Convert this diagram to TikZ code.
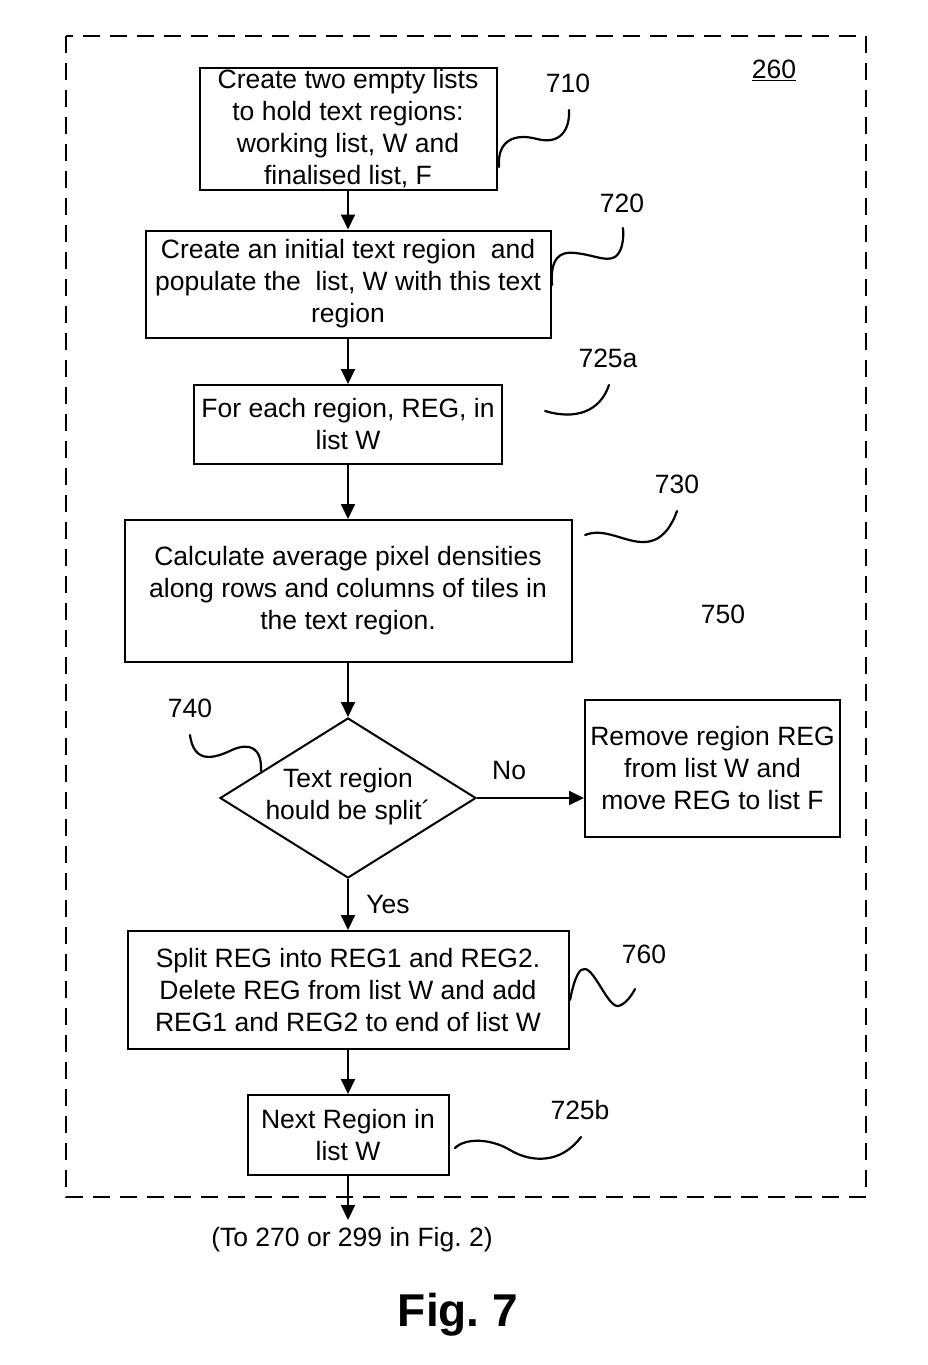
\documentclass[tikz,border=0pt]{standalone}
\usepackage{fontspec}
\setmainfont{Liberation Sans}
\usepackage{tikz}
\usetikzlibrary{shapes.geometric,arrows.meta}

\begin{document}
\begin{tikzpicture}[x=1pt, y=-1pt,
    box/.style={draw,line width=2pt,align=center,inner sep=0,font=\fontsize{26.5}{32}\selectfont},
    decision/.style={diamond,draw,line width=2pt,inner sep=0,minimum width=256pt,minimum height=160pt},
    flow/.style={line width=2pt,-{Triangle[length=15pt,width=14pt]}},
    leader/.style={line width=2.2pt,line cap=round},
    lbl/.style={font=\fontsize{26.5}{32}\selectfont}]
        \useasboundingbox (0,0) rectangle (928,1365);
        \draw[line width=2pt,dash pattern=on 17pt off 10pt] (66,36) rectangle (866,1197);
        \node at (774,70) [lbl] (n260) {\underline{260}};
        % boxes
        \node at (348,129) [box,minimum width=297pt,minimum height=122pt] (b710) {Create two empty lists\\to hold text regions:\\working list, W and\\finalised list, F};
        \node at (348,284) [box,minimum width=405pt,minimum height=107pt] (b720) {Create an initial text region\ \ and\\populate the\ \ list, W with this text\\region};
        \node at (348,424.5) [box,minimum width=308pt,minimum height=79pt] (b725a) {For each region, REG, in\\list W};
        \node at (348,591) [box,minimum width=447pt,minimum height=142pt] (b730) {Calculate average pixel densities\\along rows and columns of tiles in\\the text region.};
        \node at (348,798) [decision] (d740) {};
        \node at (348,797) [lbl,align=center] (t740) {Text region\\hould be split´};
        \node at (712.5,768.5) [box,minimum width=255pt,minimum height=137pt] (b750) {Remove region REG\\from list W and\\move REG to list F};
        \node at (348,990) [box,minimum width=441pt,minimum height=118pt] (b760) {Split REG into REG1 and REG2.\\Delete REG from list W and add\\REG1 and REG2 to end of list W};
        \node at (348,1135) [box,minimum width=201pt,minimum height=80pt] (b725b) {Next Region in\\list W};
        \coordinate (out) at (348,1220);
        % arrows
        \draw[flow] (b710) -- (b720);
        \draw[flow] (b720) -- (b725a);
        \draw[flow] (b725a) -- (b730);
        \draw[flow] (b730) -- (d740);
        \draw[flow] (d740.east) -- (d740.east -| b750.west) node[lbl,pos=0.3,above=14pt] (no) {No};
        \draw[flow] (d740) -- (b760) node[lbl,midway,right=14pt] (yes) {Yes};
        \draw[flow] (b760) -- (b725b);
        \draw[flow] (b725b) -- (out);
        \node at (352,1240) [lbl] (to270) {(To 270 or 299 in Fig.\ 2)};
        \node at (458,1315) [font=\fontsize{46}{50}\selectfont\bfseries] (fig) {Fig.\ 7};
        % reference numerals
        \node at (568,83) [lbl] (n710) {710};
        \node at (622,203) [lbl] (n720) {720};
        \node at (608,358) [lbl] (n725a) {725a};
        \node at (677,484) [lbl] (n730) {730};
        \node at (723,614) [lbl] (n750) {750};
        \node at (190,708) [lbl] (n740) {740};
        \node at (644,954) [lbl] (n760) {760};
        \node at (580,1110) [lbl] (n725b) {725b};
        \draw[leader] (499,167) .. controls (497,140) and (515,133) .. (537,139) .. controls (560,145) and (570,130) .. (569,110);
        \draw[leader] (552,285) .. controls (550,258) and (560,251) .. (575,253) .. controls (595,255) and (605,262) .. (615,257) .. controls (622,252) and (624,240) .. (623,228);
        \draw[leader] (545,411) .. controls (575,420) and (600,412) .. (609,385);
        \draw[leader] (585,535) .. controls (605,527) and (625,543) .. (645,542) .. controls (663,541) and (672,525) .. (677,511);
        \draw[leader] (190,735) .. controls (194,765) and (215,758) .. (232,750) .. controls (250,742) and (262,748) .. (261,771);
        \draw[leader] (570,1000) .. controls (575,975) and (580,968) .. (585,969) .. controls (595,970) and (608,1007) .. (618,1006) .. controls (625,1005) and (632,995) .. (635,989);
        \draw[leader] (455,1148) .. controls (465,1138) and (490,1138) .. (510,1150) .. controls (530,1162) and (560,1165) .. (581,1137);
    \end{tikzpicture}
\end{document}
